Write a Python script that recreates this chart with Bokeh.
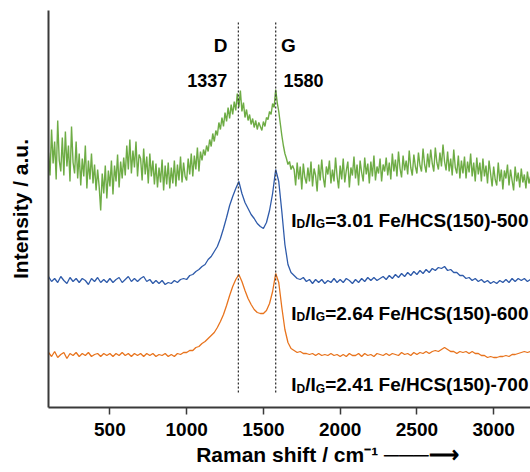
from bokeh.plotting import figure
from bokeh.models import FixedTicker
from bokeh.core.properties import value
from bokeh.embed import file_html
from bokeh.resources import INLINE

# ---------------- data ----------------
x_green = list(range(100, 3241, 10))
green_500 = [
    255, 232, 278, 244, 266, 228, 287, 247, 236, 270,
    232, 276, 241, 262, 226, 281, 245, 234, 266, 229,
    254, 222, 249, 231, 262, 219, 247, 228, 254, 224,
    243, 217, 238, 221, 197, 234, 214, 242, 209, 237,
    221, 247, 213, 242, 226, 253, 220, 246, 229, 250,
    232, 262, 238, 268, 234, 257, 240, 266, 231, 253,
    249, 227, 259, 233, 251, 224, 254, 231, 247, 223,
    244, 220, 240, 225, 248, 217, 242, 223, 245, 219,
    240, 224, 247, 221, 243, 227, 251, 225, 245, 231,
    227, 249, 233, 254, 231, 252, 238, 260, 236, 256,
    247, 258, 252, 262, 256, 268, 261, 274, 266, 277,
    272, 285, 278, 290, 281, 295, 286, 300, 289, 303,
    293, 306, 297, 314, 300, 317, 296, 305, 290, 298,
    287, 293, 283, 289, 280, 287, 278, 285, 281, 277,
    286, 281, 290, 288, 296, 293, 304, 300, 318, 305,
    296, 284, 272, 262, 254, 249, 243, 246, 238, 242,
    238, 222, 245, 228, 241, 218, 244, 230, 224, 240,
    226, 246, 221, 239, 232, 216, 243, 227, 248, 230,
    220, 241, 233, 247, 224, 238, 226, 250, 231, 219,
    242, 228, 249, 225, 237, 246, 220, 240, 232, 251,
    229, 243, 222, 247, 235, 226, 250, 233, 244, 224,
    246, 231, 252, 227, 241, 234, 249, 226, 243, 236,
    250, 232, 245, 228, 254, 236, 248, 231, 256, 239,
    230, 252, 237, 247, 233, 257, 240, 232, 253, 241,
    234, 255, 242, 236, 259, 243, 235, 254, 240, 258,
    244, 236, 260, 245, 238, 255, 241, 263, 246, 237,
    256, 236, 249, 232, 258, 240, 234, 252, 229, 247,
    234, 251, 229, 246, 235, 254, 231, 245, 226, 250,
    233, 245, 226, 249, 231, 242, 224, 247, 234, 221,
    241, 228, 222, 245, 226, 238, 218, 237, 229, 243,
    222, 238, 227, 217, 241, 226, 235, 220, 239, 225,
    233, 219, 236, 224, 231,
]

x_grid = list(range(100, 3241, 20))
blue_600 = [
    131, 126, 129, 125, 131, 127, 124, 130, 126, 129,
    125, 129, 127, 123, 129, 126, 130, 125, 128, 125,
    129, 125, 128, 130, 125, 128, 131, 126, 129, 126,
    129, 131, 126, 128, 124, 127, 124, 127, 123, 125,
    124, 127, 125, 128, 129, 128, 132, 133, 136, 138,
    141, 143, 148, 151, 156, 161, 169, 179, 190, 202,
    211, 219, 226, 214, 205, 199, 193, 189, 184, 181,
    179, 185, 197, 214, 238, 226, 196, 163, 143, 135,
    132, 129, 128, 130, 126, 128, 124, 128, 125, 128,
    124, 127, 125, 129, 125, 128, 125, 129, 127, 124,
    128, 125, 129, 126, 130, 127, 130, 127, 129, 131,
    128, 132, 129, 133, 130, 134, 131, 135, 132, 136,
    133, 137, 134, 138, 135, 139, 137, 140, 139, 141,
    137, 138, 135, 135, 132, 132, 129, 130, 127, 129,
    126, 128, 125, 127, 124, 126, 124, 127, 125, 128,
    125, 129, 126, 129, 127, 129, 126, 128,
]
orange_700 = [
    55, 51, 56, 50, 53, 55, 49, 54, 52, 55,
    51, 54, 52, 55, 51, 53, 54, 51, 54, 52,
    54, 51, 54, 52, 55, 52, 54, 51, 54, 52,
    54, 51, 54, 52, 54, 51, 53, 52, 54, 51,
    53, 51, 54, 53, 55, 55, 57, 57, 60, 61,
    64, 66, 69, 72, 75, 80, 86, 93, 102, 112,
    121, 128, 133, 126, 117, 109, 103, 98, 95, 94,
    94, 97, 104, 116, 134, 125, 100, 78, 65, 59,
    57, 55, 56, 54, 54, 53, 54, 52, 54, 52,
    53, 52, 54, 52, 53, 51, 53, 51, 54, 52,
    52, 54, 51, 54, 52, 53, 51, 54, 53, 52,
    54, 52, 54, 53, 52, 55, 53, 54, 52, 55,
    53, 55, 54, 56, 54, 56, 57, 56, 58, 60,
    58, 56, 56, 54, 56, 55, 56, 54, 56, 54,
    54, 52, 52, 50, 51, 50, 50, 51, 51, 52,
    51, 53, 53, 54, 55, 56, 55, 56,
]

peak_positions = [1337, 1580]
peak_names = ["D", "G"]
peak_labels = ["1337", "1580"]
ratios = ["3.01", "2.64", "2.41"]
samples = ["Fe/HCS(150)-500", "Fe/HCS(150)-600", "Fe/HCS(150)-700"]
x_ticks = [500, 1000, 1500, 2000, 2500, 3000]

# ---------------- styling ----------------
FONT = "Liberation Sans"
GREEN = "#6EAC45"
BLUE = "#2F5BAA"
ORANGE = "#E8741E"
AXIS = "#3a3a3a"

p = figure(width=530, height=472, x_range=(100, 3240), y_range=(0, 397),
           output_backend="svg", toolbar_location=None,
           min_border_left=48, min_border_right=0, min_border_top=10,
           min_border_bottom=65)
p.outline_line_color = None
p.grid.visible = False
p.background_fill_color = "white"

xa = p.xaxis[0]
xa.ticker = FixedTicker(ticks=x_ticks)
xa.minor_tick_line_color = None
xa.major_tick_in = 0
xa.major_tick_out = 7
xa.major_tick_line_width = 1.5
xa.major_tick_line_color = AXIS
xa.axis_line_width = 2
xa.axis_line_color = AXIS
xa.major_label_text_font = FONT
xa.major_label_text_font_style = "bold"
xa.major_label_text_font_size = "19px"
xa.major_label_text_color = "black"
xa.major_label_standoff = 8
xa.axis_label = "\u00a0" * 13 + "Raman shift / cm\u207b\u00b9 \u2500\u2500\u2500\u27f6"
xa.axis_label_text_font = FONT
xa.axis_label_text_font_style = "bold"
xa.axis_label_text_font_size = "21px"
xa.axis_label_text_color = "black"
xa.axis_label_standoff = 4

ya = p.yaxis[0]
ya.ticker = FixedTicker(ticks=[])
ya.minor_tick_line_color = None
ya.major_tick_in = 0
ya.major_tick_out = 0
ya.major_label_standoff = 0
ya.axis_line_width = 2
ya.axis_line_color = AXIS
ya.axis_label = "Intensity / a.u."
ya.axis_label_text_font = FONT
ya.axis_label_text_font_style = "bold"
ya.axis_label_text_font_size = "21px"
ya.axis_label_text_color = "black"
ya.axis_label_standoff = 17

# spectra
p.line(x_green, green_500, line_color=GREEN, line_width=1.4)
p.line(x_grid, blue_600, line_color=BLUE, line_width=1.3)
p.line(x_grid, orange_700, line_color=ORANGE, line_width=1.3)

# dotted peak lines
p.segment(x0=peak_positions, y0=[15, 15], x1=peak_positions, y1=[387, 387],
          line_color="#333333", line_width=1.3, line_dash="2 2")

# peak labels
p.text(x=[1266], y=[351.7], text=[peak_names[0]], text_align="right",
       text_font=value(FONT), text_font_style="bold", text_font_size="19px", text_color="black")
p.text(x=[1615], y=[351.7], text=[peak_names[1]], text_align="left",
       text_font=value(FONT), text_font_style="bold", text_font_size="19px", text_color="black")
p.text(x=[1264], y=[321], text=[peak_labels[0]], text_align="right",
       text_font=value(FONT), text_font_style="bold", text_font_size="18px", text_color="black")
p.text(x=[1631], y=[321], text=[peak_labels[1]], text_align="left",
       text_font=value(FONT), text_font_style="bold", text_font_size="18px", text_color="black")

# I_D/I_G annotations
ann_x = [1681, 1681, 1681]
ann_y = [187.5, 94.5, 22.7]
rest = ["=" + r + " " + s for r, s in zip(ratios, samples)]
pieces = [
    (["I"] * 3, 0, 0, "19px"),
    (["D"] * 3, 5.3, 4.3, "12px"),
    (["/I"] * 3, 14.0, 0, "19px"),
    (["G"] * 3, 24.6, 4.3, "12px"),
    (rest, 34.0, 0, "19px"),
]
for txt, dx, dy, fs in pieces:
    p.text(x=ann_x, y=ann_y, text=txt, x_offset=dx, y_offset=dy,
           text_align="left", text_baseline="alphabetic",
           text_font=value(FONT), text_font_style="bold", text_font_size=fs,
           text_color="black")

open("out.html", "w").write(file_html(p, INLINE))
